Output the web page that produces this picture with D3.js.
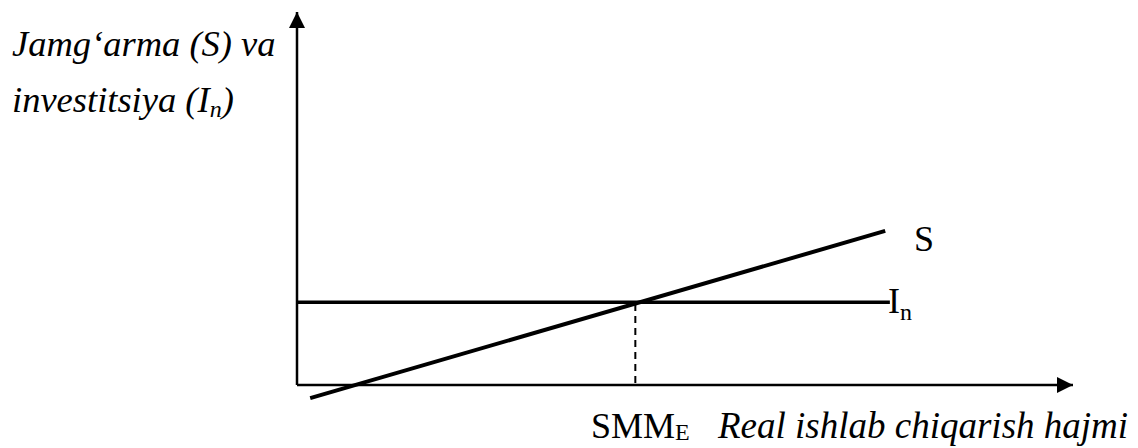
<!DOCTYPE html>
<html>
<head>
<meta charset="utf-8">
<script src="https://cdn.jsdelivr.net/npm/d3@7"></script>
<style>
  body { margin: 0; background: #fff; }
  svg { display: block; }
</style>
</head>
<body>
<div id="chart"></div>
<script>
const svgWidth = 1138,
    svgHeight = 448;

// axis extent in model units (output on x, S / I on y)
const xMax = 10, yMax = 10;
// investment line (horizontal)
const investLevel = 2.22;
const investX = [0, 7.64];
// savings line end points
const savingsX = [0.17, 7.58];
const savingsY = [-0.35, 4.13];
// equilibrium output
const equilibriumX = 4.36;

// labels
const yTitleLines = ["Jamg\u2018arma (S) va", "investitsiya (I"];
const xTitle = "Real ishlab chiqarish hajmi";

const serif = "'Liberation Serif', 'Times New Roman', Times, serif";

let svg = d3.select("#chart").append("svg")
    .attr("width", svgWidth)
    .attr("height", svgHeight);

let xScale = d3.scaleLinear()
    .domain([0, xMax])
    .range([297, 1073]);
let yScale = d3.scaleLinear()
    .domain([0, yMax])
    .range([385, 12]);

// arrow heads
let defs = svg.append("defs");
defs.append("marker")
    .attr("id", "arrow")
    .attr("viewBox", "0 0 16 16")
    .attr("refX", 16)
    .attr("refY", 8)
    .attr("markerWidth", 16)
    .attr("markerHeight", 16)
    .attr("markerUnits", "userSpaceOnUse")
    .attr("orient", "auto")
    .append("path")
    .attr("d", "M0,0 L16,8 L0,16 Z")
    .attr("fill", "#000");

let line = d3.line()
    .x(d => xScale(d[0]))
    .y(d => yScale(d[1]));

// axes
svg.append("path")
    .attr("d", line([[0, 0], [xMax, 0]]))
    .attr("stroke", "#000")
    .attr("stroke-width", 2.5)
    .attr("marker-end", "url(#arrow)");
svg.append("path")
    .attr("d", line([[0, 0], [0, yMax]]))
    .attr("stroke", "#000")
    .attr("stroke-width", 2.5)
    .attr("marker-end", "url(#arrow)");

// investment line
svg.append("path")
    .attr("d", line(investX.map(x => [x, investLevel])))
    .attr("stroke", "#000")
    .attr("stroke-width", 3.5);

// savings line
svg.append("path")
    .attr("d", line(d3.zip(savingsX, savingsY)))
    .attr("stroke", "#000")
    .attr("stroke-width", 4);

// equilibrium dashed drop line
svg.append("path")
    .attr("d", line([[equilibriumX, investLevel - 0.05], [equilibriumX, 0]]))
    .attr("stroke", "#000")
    .attr("stroke-width", 2)
    .attr("stroke-dasharray", "7,5");

function label(x, y, size, italic) {
    return svg.append("text")
        .attr("x", x)
        .attr("y", y)
        .attr("font-family", serif)
        .attr("font-style", italic ? "italic" : "normal")
        .attr("font-size", size);
}

// y title
label(12, 56, 36.5, true).text(yTitleLines[0]);
let yt2 = label(12, 112, 36.5, true);
yt2.append("tspan").text(yTitleLines[1]);
yt2.append("tspan").attr("font-size", 24).attr("dy", 5).text("n");
yt2.append("tspan").attr("dy", -5).text(")");

// line labels
label(914, 251, 36).text("S");
let inLabel = label(888, 313, 36);
inLabel.append("tspan").text("I");
inLabel.append("tspan").attr("font-size", 24).attr("dy", 7).text("n");

// x title
let smm = label(591, 438, 36);
smm.append("tspan").text("SMM");
smm.append("tspan").attr("font-size", 24).attr("dy", 2).text("E");
label(718, 438, 37, true).text(xTitle);
</script>
</body>
</html>
